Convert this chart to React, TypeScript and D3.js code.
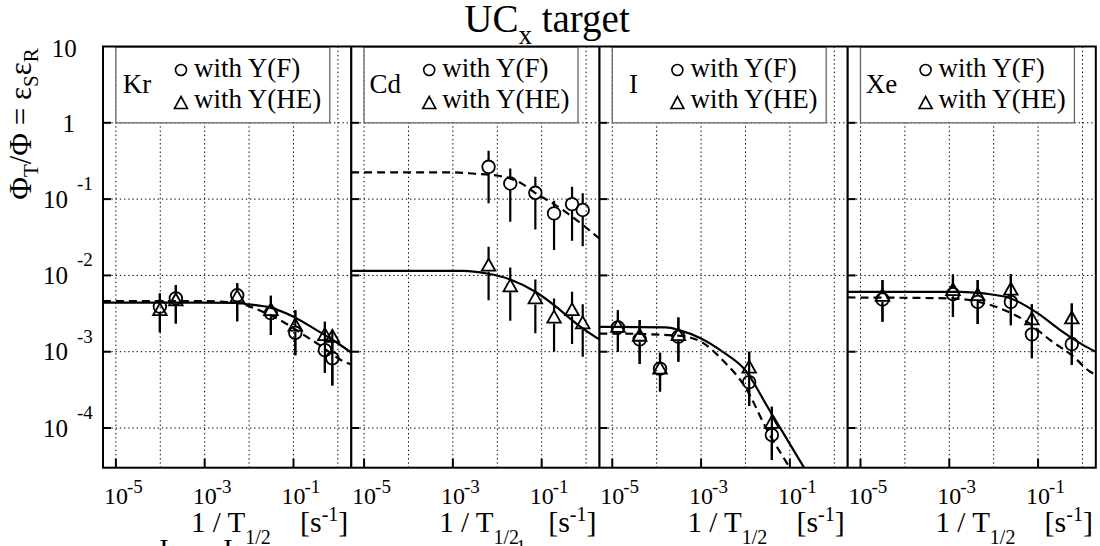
import React, { useEffect, useRef } from 'react';
import * as d3 from 'd3';

// element names, one panel each
const elements = ['Kr', 'Cd', 'I', 'Xe'];

// points: [1/T1/2 (s^-1), eps, error low, error high]
const krCircles = [
  [9.8e-5, 3.9e-3, 1.8e-3, 5.8e-3],
  [2.24e-4, 5.0e-3, 2.35e-3, 7.5e-3],
  [5.4e-3, 5.5e-3, 2.5e-3, 7.9e-3],
  [0.031, 3.2e-3, 1.65e-3, 5.4e-3],
  [0.11, 1.77e-3, 9.0e-4, 3.5e-3],
  [0.51, 1.05e-3, 5.3e-4, 2.47e-3],
  [0.75, 8.2e-4, 3.6e-4, 1.82e-3],
];
const krTriangles = [
  [9.8e-5, 3.5e-3, 1.8e-3, 5.8e-3],
  [2.24e-4, 4.7e-3, 2.35e-3, 7.5e-3],
  [5.4e-3, 5.2e-3, 2.5e-3, 7.9e-3],
  [0.031, 3.5e-3, 1.65e-3, 5.4e-3],
  [0.11, 2.2e-3, 9.0e-4, 3.5e-3],
  [0.51, 1.65e-3, 5.3e-4, 2.47e-3],
  [0.75, 1.57e-3, 3.6e-4, 1.82e-3],
];
const krSolid = [
  [5.1e-6, 4.4e-3], [1e-5, 4.4e-3], [1e-3, 4.4e-3], [5.1e-3, 4.35e-3], [1e-2, 4.17e-3],
  [0.031, 3.76e-3], [0.1, 2.88e-3], [0.33, 1.92e-3], [1, 1.29e-3], [2.0, 9.7e-4],
];
const krDashed = [
  [5.1e-6, 4.6e-3], [1e-3, 4.6e-3], [5.1e-3, 4.38e-3], [0.017, 3.5e-3], [0.058, 2.47e-3],
  [0.16, 1.7e-3], [0.46, 1.14e-3], [1, 8.2e-4], [2.0, 6.8e-4],
];

const cdCircles = [
  [6.37e-3, 0.265, 0.088, 0.43],
  [0.0196, 0.16, 0.0505, 0.252],
  [0.072, 0.121, 0.04, 0.196],
  [0.19, 0.065, 0.0215, 0.095],
  [0.483, 0.086, 0.0284, 0.145],
  [0.84, 0.072, 0.0242, 0.119],
];
const cdTriangles = [
  [6.37e-3, 0.0134, 4.74e-3, 0.0237],
  [0.0196, 7.2e-3, 2.54e-3, 0.0127],
  [0.072, 5.0e-3, 1.74e-3, 8.85e-3],
  [0.19, 2.8e-3, 1.0e-3, 5.0e-3],
  [0.483, 3.5e-3, 1.26e-3, 6.1e-3],
  [0.84, 2.35e-3, 8.6e-4, 4.2e-3],
];
const cdSolid = [
  [5.1e-6, 0.0115], [1.74e-3, 0.0115], [5.85e-3, 0.0106], [0.0196, 8.85e-3], [0.072, 6.1e-3],
  [0.19, 4.08e-3], [0.483, 2.6e-3], [0.84, 2.02e-3], [1.98, 1.45e-3],
];
const cdDashed = [
  [5.1e-6, 0.224], [1e-3, 0.224], [3.16e-3, 0.215], [1e-2, 0.204], [0.0316, 0.166],
  [0.072, 0.12], [0.19, 0.086], [0.483, 0.059], [1.98, 0.0305],
];

const iCircles = [
  [1.34e-5, 2.08e-3, 1.0e-3, 3.5e-3],
  [4.14e-5, 1.45e-3, 6.9e-4, 2.6e-3],
  [1.19e-4, 6.0e-4, 3.0e-4, 9.7e-4],
  [3.08e-4, 1.57e-3, 7.4e-4, 2.8e-3],
  [0.0121, 4.0e-4, 1.94e-4, 1.0e-3],
  [0.0393, 8.1e-5, 3.8e-5, 1.9e-4],
];
const iTriangles = [
  [1.34e-5, 2.12e-3, 1.0e-3, 3.5e-3],
  [4.14e-5, 1.62e-3, 6.9e-4, 2.6e-3],
  [1.19e-4, 6.0e-4, 3.0e-4, 9.7e-4],
  [3.08e-4, 1.65e-3, 7.4e-4, 2.8e-3],
  [0.0121, 6.2e-4, 1.94e-4, 1.0e-3],
  [0.0393, 1.17e-4, 3.8e-5, 1.9e-4],
];
const iSolid = [
  [5.1e-6, 2.12e-3], [1e-5, 2.12e-3], [1.6e-4, 2.08e-3], [3.2e-4, 1.92e-3], [1e-3, 1.49e-3],
  [3.03e-3, 1.0e-3], [1e-2, 5.7e-4], [0.0313, 1.9e-4], [0.098, 6.3e-5], [0.21, 3.0e-5], [2.0, 3.5e-6],
];
const iDashed = [
  [5.1e-6, 1.73e-3], [1e-5, 1.73e-3], [3.16e-4, 1.62e-3], [1e-3, 1.35e-3], [3.16e-3, 7.6e-4],
  [1e-2, 3.4e-4], [0.0316, 9.1e-5], [0.1, 3.0e-5], [2.0, 1.5e-6],
];

const xeCircles = [
  [3.13e-5, 4.84e-3, 2.47e-3, 8.7e-3],
  [1.21e-3, 5.7e-3, 2.87e-3, 0.0103],
  [4.36e-3, 4.5e-3, 2.3e-3, 8.7e-3],
  [0.0244, 4.5e-3, 2.23e-3, 0.0104],
  [0.0726, 1.69e-3, 8.2e-4, 4.2e-3],
  [0.575, 1.26e-3, 6.7e-4, 4.3e-3],
];
const xeTriangles = [
  [3.13e-5, 5.4e-3, 2.47e-3, 8.7e-3],
  [1.21e-3, 6.4e-3, 2.87e-3, 0.0103],
  [4.36e-3, 5.5e-3, 2.3e-3, 8.7e-3],
  [0.0244, 6.5e-3, 2.23e-3, 0.0104],
  [0.0726, 2.65e-3, 8.2e-4, 4.2e-3],
  [0.575, 2.73e-3, 6.7e-4, 4.3e-3],
];
const xeSolid = [
  [5.1e-6, 6.1e-3], [1e-5, 6.1e-3], [1.77e-3, 6.1e-3], [5.94e-3, 5.8e-3], [0.0244, 4.99e-3],
  [0.099, 3.18e-3], [0.315, 1.92e-3], [1, 1.24e-3], [1.98, 9.98e-4],
];
const xeDashed = [
  [5.1e-6, 5.14e-3], [1.06e-3, 5.0e-3], [3.54e-3, 4.65e-3], [0.0141, 3.69e-3], [0.056, 2.47e-3],
  [0.1875, 1.42e-3], [0.628, 8.6e-4], [1.49, 5.46e-4], [1.98, 5.0e-4],
];

const xTickExps = [-5, -3, -1];
const yTickExps = [1, 0, -1, -2, -3, -4];
const gridXExps = [-5, -4, -3, -2, -1, 0];
const gridYExps = [0, -1, -2, -3, -4];

const panels = [
  { name: elements[0], circles: krCircles, triangles: krTriangles, solid: krSolid, dashed: krDashed },
  { name: elements[1], circles: cdCircles, triangles: cdTriangles, solid: cdSolid, dashed: cdDashed },
  { name: elements[2], circles: iCircles, triangles: iTriangles, solid: iSolid, dashed: iDashed },
  { name: elements[3], circles: xeCircles, triangles: xeTriangles, solid: xeSolid, dashed: xeDashed },
];

const App = () => {
  const chartRef = useRef<SVGSVGElement>(null);

  useEffect(() => {
    drawChart();
  }, []);

  const drawChart = () => {
    const width = 1100;
    const height = 546;
    const top = 46.5;
    const bottom = 467.7;
    const left0 = 103;
    const pw = 248.2;
    const font = "'Liberation Serif', 'Times New Roman', serif";

    const svg = d3.select(chartRef.current)
      .attr('width', width)
      .attr('height', height)
      .attr('viewBox', [0, 0, width, height] as any)
      .style('font-family', font)
      .style('background', 'white');
    svg.selectAll('*').remove();

    const y = d3.scaleLog().domain([Math.pow(10, -4.52), 10]).range([bottom, top]);

    const defs = svg.append('defs');

    panels.forEach((p, i) => {
      const L = left0 + pw * i;
      const x = d3.scaleLog().domain([Math.pow(10, -5.29), Math.pow(10, 0.3)]).range([L, L + pw]);
      const g = svg.append('g');

      defs.append('clipPath').attr('id', 'clip-' + i)
        .append('rect').attr('x', L).attr('y', top).attr('width', pw).attr('height', bottom - top);

      // dotted grid
      g.append('g')
        .selectAll('line')
        .data(gridXExps)
        .join('line')
        .attr('x1', d => x(Math.pow(10, d)))
        .attr('x2', d => x(Math.pow(10, d)))
        .attr('y1', top)
        .attr('y2', bottom)
        .attr('stroke', '#000')
        .attr('stroke-width', 1)
        .attr('stroke-dasharray', '1.4,2.8');
      g.append('g')
        .selectAll('line')
        .data(gridYExps)
        .join('line')
        .attr('x1', L)
        .attr('x2', L + pw)
        .attr('y1', d => y(Math.pow(10, d)))
        .attr('y2', d => y(Math.pow(10, d)))
        .attr('stroke', '#000')
        .attr('stroke-width', 1)
        .attr('stroke-dasharray', '1.4,2.8');

      // legend box
      const lx = x(1e-5);
      g.append('rect')
        .attr('x', lx)
        .attr('y', top + 0.5)
        .attr('width', L + 226.8 - lx)
        .attr('height', y(1) - top - 0.5)
        .attr('fill', 'white')
        .attr('stroke', '#666')
        .attr('stroke-width', 1.3);
      g.append('text')
        .attr('x', L + 34)
        .attr('y', 93)
        .attr('text-anchor', 'middle')
        .attr('font-size', 27)
        .text(p.name);
      g.append('circle')
        .attr('cx', L + 78).attr('cy', 70).attr('r', 5.5)
        .attr('fill', 'none').attr('stroke', '#000').attr('stroke-width', 1.6);
      g.append('path')
        .attr('d', `M${L + 78},${96.5}L${L + 84.5},${108.5}L${L + 71.5},${108.5}Z`)
        .attr('fill', 'none').attr('stroke', '#000').attr('stroke-width', 1.6);
      g.append('text').attr('x', L + 91).attr('y', 77.3).attr('font-size', 27).text('with Y(F)');
      g.append('text').attr('x', L + 91).attr('y', 108.3).attr('font-size', 27).text('with Y(HE)');

      // fit curves
      const line = d3.line<number[]>()
        .x(d => x(d[0]))
        .y(d => y(d[1]))
        .curve(d3.curveMonotoneX);
      const curves = g.append('g').attr('clip-path', `url(#clip-${i})`);
      curves.append('path')
        .attr('d', line(p.dashed))
        .attr('fill', 'none')
        .attr('stroke', '#000')
        .attr('stroke-width', 2.2)
        .attr('stroke-dasharray', '8,5');
      curves.append('path')
        .attr('d', line(p.solid))
        .attr('fill', 'none')
        .attr('stroke', '#000')
        .attr('stroke-width', 2.2);

      // error bars (gap at the marker)
      const bars = (pts: number[][], r: number) => {
        g.append('g')
          .selectAll('path')
          .data(pts)
          .join('path')
          .attr('d', d => {
            const cx = x(d[0]);
            const cy = y(d[1]);
            return `M${cx},${y(d[3])}V${cy - r}M${cx},${cy + r}V${y(d[2])}`;
          })
          .attr('stroke', '#000')
          .attr('stroke-width', 2.2)
          .attr('fill', 'none');
      };
      bars(p.triangles, 6);
      bars(p.circles, 6.3);

      g.append('g')
        .selectAll('path')
        .data(p.triangles)
        .join('path')
        .attr('d', d => {
          const cx = x(d[0]);
          const cy = y(d[1]);
          return `M${cx},${cy - 7}L${cx + 6.8},${cy + 5}L${cx - 6.8},${cy + 5}Z`;
        })
        .attr('fill', 'none')
        .attr('stroke', '#000')
        .attr('stroke-width', 1.8);
      g.append('g')
        .selectAll('circle')
        .data(p.circles)
        .join('circle')
        .attr('cx', d => x(d[0]))
        .attr('cy', d => y(d[1]))
        .attr('r', 6.3)
        .attr('fill', 'none')
        .attr('stroke', '#000')
        .attr('stroke-width', 1.8);

      // ticks
      g.append('g')
        .selectAll('line')
        .data(gridYExps)
        .join('line')
        .attr('x1', L)
        .attr('x2', L + 8)
        .attr('y1', d => y(Math.pow(10, d)))
        .attr('y2', d => y(Math.pow(10, d)))
        .attr('stroke', '#000')
        .attr('stroke-width', 2);
      g.append('g')
        .selectAll('line')
        .data(xTickExps)
        .join('line')
        .attr('x1', d => x(Math.pow(10, d)))
        .attr('x2', d => x(Math.pow(10, d)))
        .attr('y1', bottom)
        .attr('y2', bottom - 9)
        .attr('stroke', '#000')
        .attr('stroke-width', 2);

      // x tick labels
      const xl = g.append('g')
        .selectAll('g')
        .data(xTickExps)
        .join('g')
        .attr('transform', d => `translate(${x(Math.pow(10, d))},0)`);
      xl.append('text')
        .attr('x', 0).attr('y', 504)
        .attr('text-anchor', 'middle')
        .attr('font-size', 24)
        .text('10');
      xl.append('text')
        .attr('x', 11).attr('y', 493)
        .attr('font-size', 19)
        .text(d => String(d));

      // x axis title
      const t1 = g.append('text')
        .attr('x', L + 88).attr('y', 532)
        .attr('font-size', 29);
      t1.append('tspan').text('1 / T');
      t1.append('tspan').attr('font-size', 20).attr('dy', 12).text('1/2');
      const t2 = g.append('text').attr('x', L + 197).attr('y', 532).attr('font-size', 30);
      t2.append('tspan').text('[s');
      t2.append('tspan').attr('font-size', 20).attr('dy', -11).text('-1');
      t2.append('tspan').attr('dy', 11).text(']');
    });

    // frame
    svg.append('rect')
      .attr('x', left0)
      .attr('y', top)
      .attr('width', pw * 4)
      .attr('height', bottom - top)
      .attr('fill', 'none')
      .attr('stroke', '#000')
      .attr('stroke-width', 2);
    svg.append('g')
      .selectAll('line')
      .data([1, 2, 3])
      .join('line')
      .attr('x1', d => left0 + pw * d)
      .attr('x2', d => left0 + pw * d)
      .attr('y1', top)
      .attr('y2', bottom)
      .attr('stroke', '#000')
      .attr('stroke-width', 2.2);

    // y tick labels
    yTickExps.forEach(e => {
      const ty = y(Math.pow(10, e));
      if (e === 1) {
        svg.append('text').attr('x', 76.7).attr('y', ty + 10).attr('text-anchor', 'end').attr('font-size', 25).text('10');
      } else if (e === 0) {
        svg.append('text').attr('x', 75).attr('y', ty + 9).attr('text-anchor', 'end').attr('font-size', 25).text('1');
      } else {
        svg.append('text').attr('x', 68).attr('y', ty + 8.5).attr('text-anchor', 'end').attr('font-size', 25).text('10');
        svg.append('text').attr('x', 77).attr('y', ty - 9).attr('font-size', 19).text(String(e));
      }
    });

    // y axis title
    const yt = svg.append('text')
      .attr('transform', 'translate(31,124) rotate(-90)')
      .attr('text-anchor', 'middle')
      .attr('font-size', 31);
    yt.append('tspan').text('Φ');
    yt.append('tspan').attr('font-size', 21).attr('dy', 7).text('T');
    yt.append('tspan').attr('dy', -7).text('/Φ = ε');
    yt.append('tspan').attr('font-size', 21).attr('dy', 7).text('S');
    yt.append('tspan').attr('dy', -7).text('ε');
    yt.append('tspan').attr('font-size', 21).attr('dy', 7).text('R');

    // title
    const title = svg.append('text')
      .attr('x', 547)
      .attr('y', 32)
      .attr('text-anchor', 'middle')
      .attr('font-size', 39);
    title.append('tspan').text('UC');
    title.append('tspan').attr('font-size', 27).attr('dy', 12).text('x');
    title.append('tspan').attr('dy', -12).text(' target');

    // clipped leftovers at the bottom edge
    svg.append('text').attr('x', 164).attr('y', 558).attr('text-anchor', 'middle').attr('font-size', 28).text('I');
    svg.append('text').attr('x', 228).attr('y', 558).attr('text-anchor', 'middle').attr('font-size', 28).text('I');
    svg.append('text').attr('x', 521).attr('y', 553).attr('text-anchor', 'middle').attr('font-size', 19).text('1');
  };

  return (
    <svg ref={chartRef} style={{ position: 'absolute', left: 0, top: 0, display: 'block' }}></svg>
  );
};

export default App;
